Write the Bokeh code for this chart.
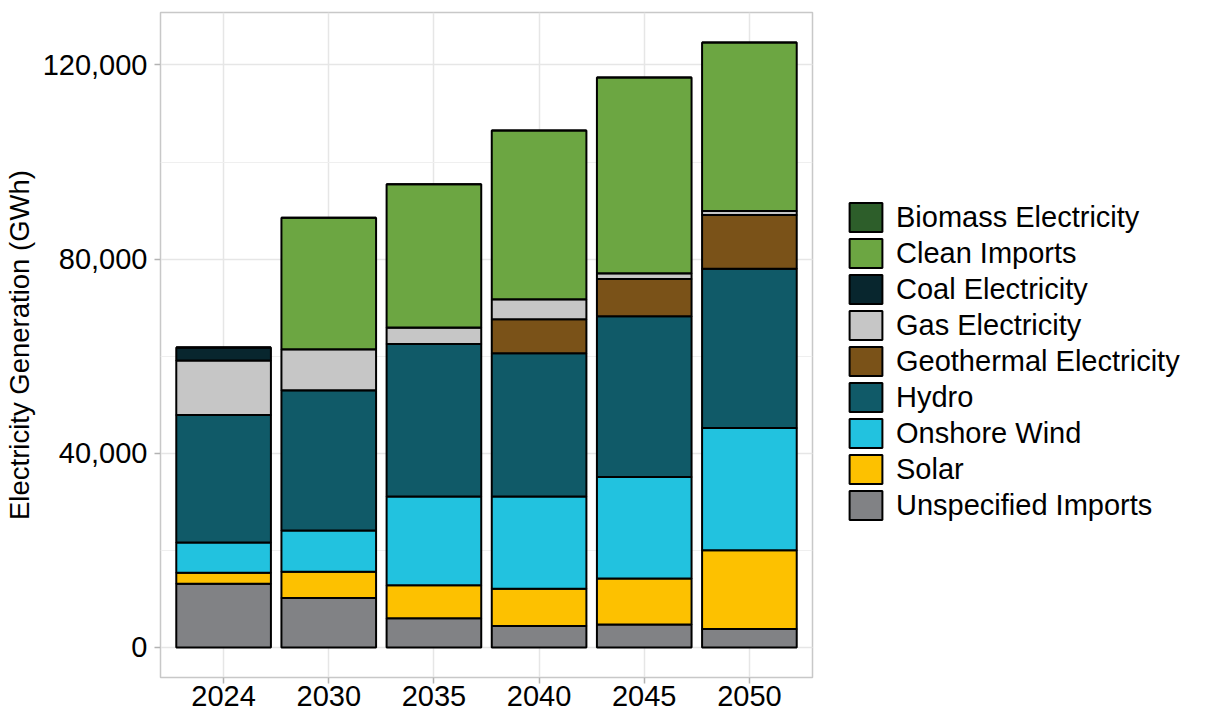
from bokeh.plotting import figure
from bokeh.models import (FactorRange, Range1d, Legend, LegendItem,
                          NumeralTickFormatter, SingleIntervalTicker, ColumnDataSource)
from bokeh.embed import file_html
from bokeh.resources import INLINE

years = ["2024", "2030", "2035", "2040", "2045", "2050"]
unspecified = [13100, 10200, 6000, 4400, 4700, 3800]
solar = [2300, 5400, 6800, 7700, 9500, 16200]
wind = [6200, 8500, 18300, 19000, 20900, 25200]
hydro = [26300, 28900, 31400, 29500, 33100, 32800]
geothermal = [0, 0, 0, 7000, 7700, 11100]
gas = [11200, 8400, 3400, 4100, 1200, 800]
coal = [2700, 0, 0, 0, 0, 0]
clean = [0, 27100, 29500, 34800, 40300, 34700]
biomass = [0, 0, 0, 0, 0, 0]

# stacking order bottom -> top
stack_names = ["Unspecified Imports", "Solar", "Onshore Wind", "Hydro",
               "Geothermal Electricity", "Gas Electricity", "Coal Electricity",
               "Clean Imports", "Biomass Electricity"]
stack_values = [unspecified, solar, wind, hydro, geothermal, gas, coal, clean, biomass]
stack_colors = ["#818285", "#fdc100", "#22c2df", "#105a68",
                "#7a5218", "#c6c6c6", "#08262e", "#6ca642", "#2d5e2a"]

data = {"year": years}
for n, v in zip(stack_names, stack_values):
    data[n] = v
source = ColumnDataSource(data)

FONT = "Liberation Sans"

p = figure(x_range=FactorRange(factors=years, range_padding=0.1, range_padding_units="absolute"),
           y_range=Range1d(-6200, 130800),
           frame_width=652, frame_height=665,
           min_border_left=159, min_border_top=12, min_border_bottom=34, min_border_right=385,
           output_backend="svg", toolbar_location=None)

renderers = p.vbar_stack(stack_names, x="year", width=0.9, source=source,
                         fill_color=stack_colors, line_color="black", line_width=2)

# legend (alphabetical, top to bottom)
order = ["Biomass Electricity", "Clean Imports", "Coal Electricity", "Gas Electricity",
         "Geothermal Electricity", "Hydro", "Onshore Wind", "Solar", "Unspecified Imports"]
rmap = dict(zip(stack_names, renderers))
items = [LegendItem(label=n, renderers=[rmap[n]]) for n in order]
legend = Legend(items=items, location=(33, 154))
legend.background_fill_alpha = 0
legend.border_line_color = None
legend.padding = 0
legend.margin = 0
legend.spacing = 0
legend.glyph_width = 41
legend.glyph_height = 36
legend.label_height = 36
legend.label_standoff = 10
legend.label_text_font = FONT
legend.label_text_font_size = "29px"
legend.label_text_color = "black"
legend.label_text_baseline = "middle"
p.add_layout(legend, "right")

p.yaxis.ticker = SingleIntervalTicker(interval=40000, num_minor_ticks=2)
p.yaxis.formatter = NumeralTickFormatter(format="0,0")
p.yaxis.axis_label = "Electricity Generation (GWh)"
p.yaxis.axis_label_text_font = FONT
p.yaxis.axis_label_text_font_size = "27.5px"
p.yaxis.axis_label_text_font_style = "normal"
p.yaxis.axis_label_text_color = "black"
p.yaxis.axis_label_standoff = 5

for ax in (p.xaxis, p.yaxis):
    ax.axis_line_color = None
    ax.major_tick_line_color = "#b3b3b3"
    ax.major_tick_line_width = 1.5
    ax.major_tick_out = 6
    ax.major_tick_in = 0
    ax.minor_tick_line_color = None
    ax.major_label_text_font = FONT
    ax.major_label_text_font_size = "29px"
    ax.major_label_text_color = "black"

p.yaxis.major_label_standoff = 7
p.xaxis.major_label_standoff = 2

p.xgrid.grid_line_color = "#e6e6e6"
p.xgrid.grid_line_width = 1.5
p.ygrid.grid_line_color = "#e6e6e6"
p.ygrid.grid_line_width = 1.5
p.ygrid.minor_grid_line_color = "#efefef"
p.ygrid.minor_grid_line_width = 1

p.outline_line_color = "#c8c8c8"
p.outline_line_width = 1.5
p.background_fill_color = "white"
p.border_fill_color = "white"

open("out.html", "w").write(file_html(p, INLINE))
